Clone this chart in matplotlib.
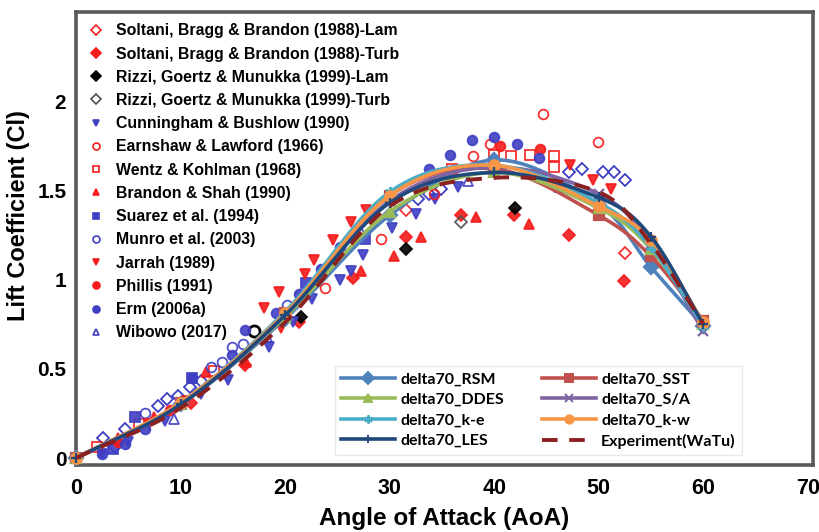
import numpy as np
import matplotlib
matplotlib.use("Agg")
import matplotlib.pyplot as plt
from matplotlib.lines import Line2D

plt.rcParams['font.family'] = ['Liberation Sans', 'DejaVu Sans']

# CFD curves (delta wing 70 deg)
aoa = [0, 10, 20, 30, 40, 50, 55, 60]
cl_rsm = [0, 0.30, 0.78, 1.36, 1.67, 1.42, 1.07, 0.74]
cl_sst = [0, 0.31, 0.81, 1.47, 1.62, 1.36, 1.13, 0.77]
cl_ddes = [0, 0.30, 0.79, 1.38, 1.60, 1.40, 1.17, 0.75]
cl_sa = [0, 0.30, 0.80, 1.44, 1.63, 1.48, 1.20, 0.71]
cl_ke = [0, 0.31, 0.82, 1.49, 1.64, 1.43, 1.18, 0.74]
cl_kw = [0, 0.31, 0.81, 1.47, 1.64, 1.41, 1.22, 0.76]
cl_les = [0, 0.30, 0.80, 1.43, 1.60, 1.46, 1.24, 0.75]
cl_exp = [0, 0.28, 0.76, 1.41, 1.57, 1.49, 1.20, 0.75]

# published experiments
soltani_lam_x = [31.6, 52.5]
soltani_lam_y = [1.39, 1.15]
soltani_turb_x = [11.0, 16.2, 21.3, 26.5, 31.6, 36.8, 41.9, 47.2, 52.4]
soltani_turb_y = [0.31, 0.52, 0.76, 1.01, 1.24, 1.36, 1.36, 1.25, 0.99]
rizzi_lam_x = [21.5, 31.6, 42.0]
rizzi_lam_y = [0.79, 1.17, 1.40]
rizzi_turb_x = [36.8]
rizzi_turb_y = [1.32]
cunningham_x = [2.5, 5.0, 8.5, 12.0, 14.5, 18.5, 20.8, 22.6, 25.3, 26.3, 27.5, 30.2, 32.5, 34.3, 36.5]
cunningham_y = [0.02, 0.09, 0.21, 0.36, 0.44, 0.62, 0.76, 0.89, 1.00, 1.05, 1.14, 1.29, 1.37, 1.45, 1.52]
earnshaw_x = [23.8, 29.2, 34.2, 38.0, 39.6, 44.7, 49.9]
earnshaw_y = [0.95, 1.23, 1.48, 1.69, 1.76, 1.93, 1.77]
wentz_x = [2.0, 6.0, 13.2, 36.0, 40.0, 41.6, 43.4, 45.7, 45.7]
wentz_y = [0.06, 0.19, 0.49, 1.62, 1.70, 1.69, 1.70, 1.69, 1.63]
brandon_x = [4.0, 7.5, 12.4, 16.3, 27.3, 30.4, 33.0, 38.3, 43.3]
brandon_y = [0.11, 0.23, 0.48, 0.54, 1.05, 1.13, 1.24, 1.35, 1.31]
suarez_x = [3.5, 5.6, 11.1, 22.0, 27.6]
suarez_y = [0.05, 0.23, 0.45, 0.98, 1.23]
munro_x = [6.6, 12.9, 14.0, 14.9, 16.0, 20.2]
munro_y = [0.25, 0.51, 0.54, 0.62, 0.64, 0.86]
jarrah_x = [7.0, 10.5, 18.0, 19.4, 19.6, 21.9, 22.8, 24.6, 26.3, 27.7, 47.3, 49.5, 51.2]
jarrah_y = [0.19, 0.32, 0.84, 0.93, 0.73, 1.03, 1.11, 1.22, 1.32, 1.39, 1.64, 1.56, 1.51]
phillis_x = [4.0, 9.0, 40.6, 44.4]
phillis_y = [0.09, 0.27, 1.75, 1.73]
erm_x = [2.5, 4.7, 6.6, 11.1, 14.9, 16.2, 19.1, 21.3, 23.4, 25.3, 33.8, 35.8, 37.9, 40.0, 42.2, 44.3]
erm_y = [0.02, 0.08, 0.16, 0.45, 0.58, 0.72, 0.81, 0.92, 1.06, 1.18, 1.62, 1.70, 1.78, 1.80, 1.76, 1.68]
wibowo_x = [9.4, 18.3, 27.2, 37.5, 46.2, 50.0]
wibowo_y = [0.22, 0.68, 1.28, 1.55, 1.52, 1.45]
# unlabelled points in the source figure
blue_dia_x = [2.6, 3.7, 4.7, 7.8, 8.7, 9.8, 10.9, 12.0, 32.7, 33.8, 34.9, 47.2, 48.4, 50.4, 51.5, 52.5]
blue_dia_y = [0.11, 0.06, 0.16, 0.29, 0.33, 0.35, 0.40, 0.43, 1.45, 1.48, 1.51, 1.60, 1.62, 1.60, 1.60, 1.56]
black_circ_x = [17.0]
black_circ_y = [0.71]

RED = '#f41c1c'
BLUE = '#3f3fc4'


def smooth(x, y, n=24):
    # catmull-rom through the points, like excel's smoothed line
    p = np.column_stack([x, y]).astype(float)
    p = np.vstack([2 * p[0] - p[1], p, 2 * p[-1] - p[-2]])
    t = np.linspace(0, 1, n, endpoint=False)[:, None]
    out = []
    for i in range(1, len(p) - 2):
        p0, p1, p2, p3 = p[i - 1], p[i], p[i + 1], p[i + 2]
        seg = 0.5 * (2 * p1 + (-p0 + p2) * t + (2 * p0 - 5 * p1 + 4 * p2 - p3) * t ** 2
                     + (-p0 + 3 * p1 - 3 * p2 + p3) * t ** 3)
        out.append(seg)
    out.append(p[-2][None, :])
    s = np.vstack(out)
    return s[:, 0], s[:, 1]


fig = plt.figure(figsize=(8.19, 5.32), dpi=100)
ax = fig.add_axes([76 / 819, 67 / 532, 737 / 819, 453 / 532])

# scatter sets: (x, y, marker, face, edge, label)
sets = [
    (soltani_lam_x, soltani_lam_y, 'D', 'none', RED, 'Soltani, Bragg & Brandon (1988)-Lam'),
    (soltani_turb_x, soltani_turb_y, 'D', RED, RED, 'Soltani, Bragg & Brandon (1988)-Turb'),
    (rizzi_lam_x, rizzi_lam_y, 'D', 'black', 'black', 'Rizzi, Goertz & Munukka (1999)-Lam'),
    (rizzi_turb_x, rizzi_turb_y, 'D', 'none', '#505050', 'Rizzi, Goertz & Munukka (1999)-Turb'),
    (cunningham_x, cunningham_y, 'v', BLUE, BLUE, 'Cunningham & Bushlow (1990)'),
    (earnshaw_x, earnshaw_y, 'o', 'none', RED, 'Earnshaw & Lawford (1966)'),
    (wentz_x, wentz_y, 's', 'none', RED, 'Wentz & Kohlman (1968)'),
    (brandon_x, brandon_y, '^', RED, RED, 'Brandon & Shah (1990)'),
    (suarez_x, suarez_y, 's', BLUE, BLUE, 'Suarez et al. (1994)'),
    (munro_x, munro_y, 'o', 'none', BLUE, 'Munro et al. (2003)'),
    (jarrah_x, jarrah_y, 'v', RED, RED, 'Jarrah (1989)'),
    (phillis_x, phillis_y, 'o', RED, RED, 'Phillis (1991)'),
    (erm_x, erm_y, 'o', BLUE, BLUE, 'Erm (2006a)'),
    (wibowo_x, wibowo_y, '^', 'none', BLUE, 'Wibowo (2017)'),
]
ax.plot(blue_dia_x, blue_dia_y, ls='none', marker='D', ms=6, mfc='none', mec=BLUE, mew=1.3, zorder=2)
ax.plot(black_circ_x, black_circ_y, ls='none', marker='o', ms=8, mfc='white', mec='black', mew=2, zorder=2)

handles1 = []
for x, y, m, fc, ec, lab in sets:
    ax.plot(x, y, ls='none', marker=m, ms=7 if m != 'D' else 6.5, mfc=fc, mec=ec, mew=1.3,
            alpha=0.9, zorder=2)
    handles1.append(Line2D([], [], ls='none', marker=m, ms=5, mfc=fc, mec=ec, mew=1.2, label=lab))

curves = [
    (cl_rsm, '#4f81bd', 'D', 'delta70_RSM'),
    (cl_sst, '#c0504d', 's', 'delta70_SST'),
    (cl_ddes, '#9bbb59', '^', 'delta70_DDES'),
    (cl_sa, '#8064a2', 'x', 'delta70_S/A'),
    (cl_ke, '#4bacc6', (6, 2, 0), 'delta70_k-e'),
    (cl_kw, '#f79646', 'o', 'delta70_k-w'),
    (cl_les, '#1f497d', '+', 'delta70_LES'),
]
handles2 = {}
for ys, c, m, lab in curves:
    sx, sy = smooth(aoa, ys)
    ax.plot(sx, sy, color=c, lw=2.6, zorder=3, clip_on=False)
    ax.plot(aoa, ys, ls='none', marker=m, ms=7.5, color=c, mec=c, mew=1.6, zorder=3, clip_on=False)
    handles2[lab] = Line2D([], [], color=c, lw=2.6, marker=m, ms=6, mew=1.4, label=lab)

sx, sy = smooth(aoa, cl_exp)
ax.plot(sx, sy, color='#8b2020', lw=2.8, dashes=(4, 3), zorder=4)
handles2['Experiment(WaTu)'] = Line2D([], [], color='#8b2020', lw=2.8, dashes=(4, 3),
                                      label='Experiment(WaTu)')

ax.set_xlim(0, 70.5)
ax.set_ylim(-0.039, 2.499)
ax.set_xticks(range(0, 71, 10))
ax.set_yticks([0, 0.5, 1, 1.5, 2])
ax.set_yticklabels(['0', '0.5', '1', '1.5', '2'])
ax.tick_params(length=0, labelsize=15)
ax.tick_params(axis='x', pad=9, labelsize=15.5)
ax.tick_params(axis='y', pad=7)
for lab in ax.get_xticklabels() + ax.get_yticklabels():
    lab.set_fontweight('bold')
for sp in ax.spines.values():
    sp.set_color('#5a5a5a')
    sp.set_linewidth(2.6)

ax.set_xlabel('Angle of Attack (AoA)', fontsize=17.5, fontweight='bold', labelpad=6)
ax.set_ylabel('Lift Coefficient (Cl)', fontsize=17, fontweight='bold')
ax.yaxis.set_label_coords(-0.062, 0.55)

leg1 = ax.legend(handles=handles1, loc='upper left', bbox_to_anchor=(0.016, 0.975), frameon=False,
                 prop={'weight': 'bold', 'size': 11.4}, handlelength=1.0, handletextpad=0.75,
                 labelspacing=0.52, borderpad=0, borderaxespad=0)
ax.add_artist(leg1)

order = ['delta70_RSM', 'delta70_DDES', 'delta70_k-e', 'delta70_LES',
         'delta70_SST', 'delta70_S/A', 'delta70_k-w', 'Experiment(WaTu)']
leg2 = ax.legend(handles=[handles2[k] for k in order], ncol=2, loc='lower left',
                 bbox_to_anchor=(0.34, 0.004), frameon=True, fancybox=False,
                 prop={'family': 'Lato', 'weight': 'bold', 'size': 11.5}, handlelength=3.4,
                 handletextpad=0.3, labelspacing=0.4, columnspacing=2.4, borderpad=0.4)
leg2.get_frame().set_edgecolor('#e4e4e4')
leg2.get_frame().set_linewidth(1.0)

fig.savefig('out.png', dpi=100)
